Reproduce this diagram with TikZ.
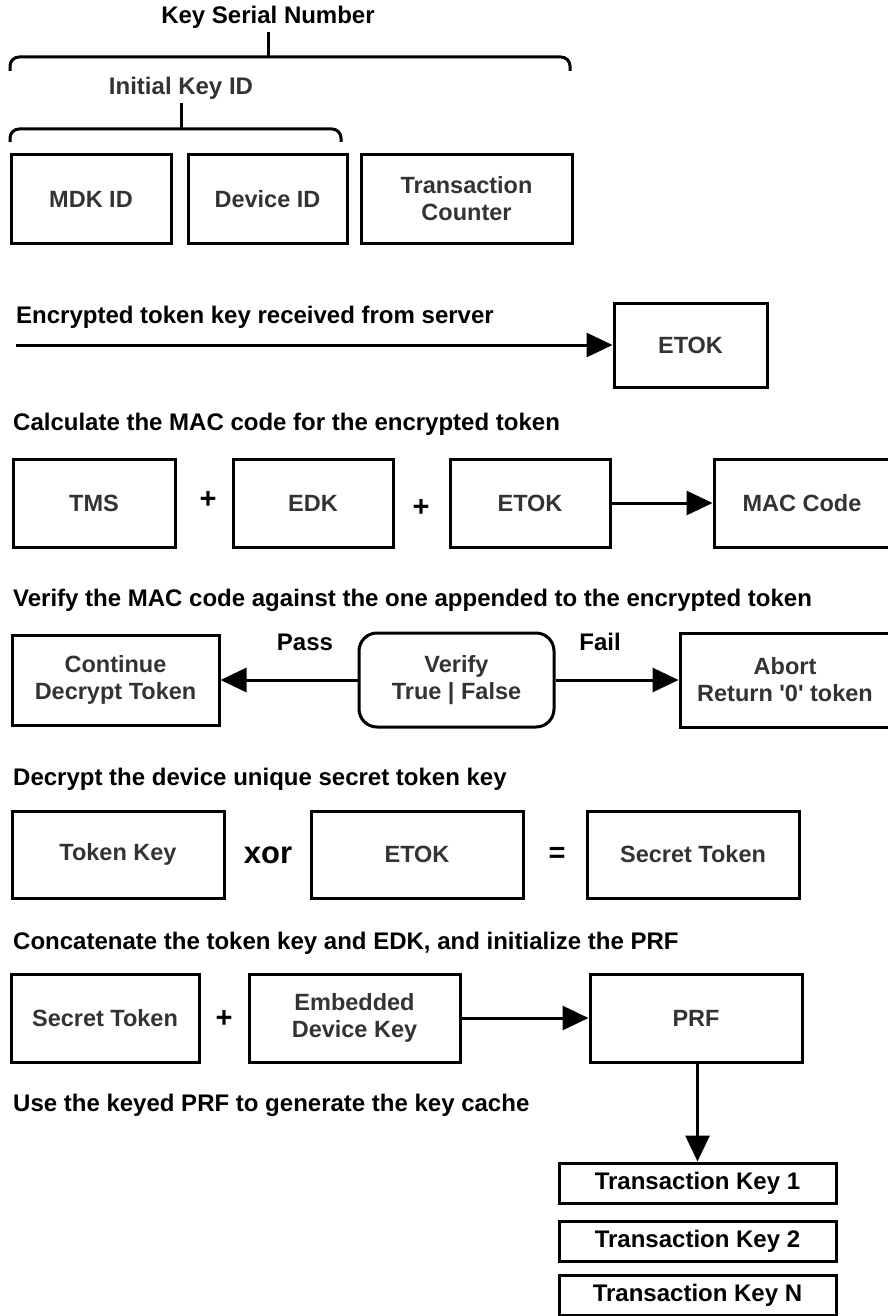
\documentclass[tikz,border=0pt]{standalone}
\usepackage{fontspec}
\setmainfont{Liberation Sans}
\usetikzlibrary{arrows.meta}
\definecolor{labelgray}{HTML}{333333}
\begin{document}
\begin{tikzpicture}[x=1pt,y=-1pt,
  txt/.style={font=\fontsize{23.5}{27}\selectfont\bfseries, inner sep=0pt},
  htxt/.style={font=\fontsize{24}{28}\selectfont\bfseries, inner sep=0pt},
  heading/.style={htxt, anchor=west, text=black},
  box/.style={draw, line width=3pt, inner sep=0pt, align=center, txt, text=labelgray},
  rbox/.style={box, rounded corners=18pt},
  tkbox/.style={draw, line width=3pt, inner sep=0pt, htxt, text=black, minimum width=277pt, minimum height=40pt},
  op/.style={htxt, text=black},
  bigop/.style={font=\fontsize{29}{29}\selectfont\bfseries, inner sep=0pt, text=black},
  conn/.style={line width=3pt, -{Triangle[length=26pt,width=24pt]}},
  brace/.style={line width=3pt, rounded corners=9pt},
  stem/.style={line width=3pt}
]
\useasboundingbox (0,0) rectangle (887,1316);

% --- Key serial number structure ---
\node[htxt, text=black] (ksn) at (268,17) {Key Serial Number};
\coordinate (ksntop) at (268,32);
\coordinate (ksnbr) at (268,57);
\draw[brace] (10,71) -- (10,57) -- (570,57) -- (570,71);
\draw[stem] (ksntop) -- (ksnbr);

\node[htxt, text=labelgray] (ikid) at (181,88) {Initial Key ID};
\coordinate (ikidtop) at (181,103);
\coordinate (ikidbr) at (181,129);
\draw[brace] (10,142) -- (10,129) -- (341,129) -- (341,142);
\draw[stem] (ikidtop) -- (ikidbr);

\node[box, minimum width=160pt, minimum height=88pt] (mdk) at (91,199) {MDK ID};
\node[box, minimum width=159pt, minimum height=88pt] (dev) at (267.5,199) {Device ID};
\node[box, minimum width=211pt, minimum height=88pt] (tc) at (466.5,199) {Transaction\\Counter};

% --- Encrypted token ---
\node[heading] (h1) at (16,317) {Encrypted token key received from server};
\node[box, minimum width=153pt, minimum height=84pt] (etok1) at (690.5,345) {ETOK};
\coordinate (srv) at (16,345);
\draw[conn] (srv) -- (etok1.west);

% --- MAC calculation ---
\node[heading] (h2) at (13,424) {Calculate the MAC code for the encrypted token};
\node[box, minimum width=162pt, minimum height=88pt] (tms) at (94,503) {TMS};
\node[bigop] (p1) at (208,500) {+};
\node[box, minimum width=160pt, minimum height=88pt] (edk) at (313,503) {EDK};
\node[bigop] (p2) at (421,508) {+};
\node[box, minimum width=160pt, minimum height=88pt] (etok2) at (530,503) {ETOK};
\node[box, minimum width=176pt, minimum height=88pt] (mac) at (802,503) {MAC Code};
\draw[conn] (etok2.east) -- (mac.west);

% --- Verify ---
\node[heading] (h3) at (13,600) {Verify the MAC code against the one appended to the encrypted token};
\node[box, minimum width=207pt, minimum height=90pt] (cont) at (115.5,680) {Continue\\Decrypt Token};
\node[rbox, minimum width=195pt, minimum height=94pt] (ver) at (456.5,680) {Verify\\True | False};
\node[box, minimum width=210pt, minimum height=94pt] (abort) at (785,680) {Abort\\Return \textquotesingle0\textquotesingle{} token};
\draw[conn] (ver.west) -- (cont.east);
\draw[conn] (ver.east) -- (abort.west);
\node[op] (pass) at (305,642) {Pass};
\node[op] (fail) at (600,642) {Fail};

% --- Decrypt ---
\node[heading] (h4) at (13,779) {Decrypt the device unique secret token key};
\node[box, minimum width=212pt, minimum height=87pt] (tk) at (118,854.5) {Token Key};
\node[op, font=\fontsize{31}{31}\selectfont\bfseries] (xor) at (268,855) {xor};
\node[box, minimum width=212pt, minimum height=87pt] (etok3) at (417,854.5) {ETOK};
\node[bigop] (eq) at (557,855) {=};
\node[box, minimum width=212pt, minimum height=87pt] (st1) at (693,854.5) {Secret Token};

% --- Concatenate ---
\node[heading] (h5) at (13,943) {Concatenate the token key and EDK, and initialize the PRF};
\node[box, minimum width=188pt, minimum height=88pt] (st2) at (105,1018) {Secret Token};
\node[bigop] (p3) at (224,1019) {+};
\node[box, minimum width=211pt, minimum height=88pt] (emb) at (354.5,1018) {Embedded\\Device Key};
\node[box, minimum width=212pt, minimum height=88pt] (prf) at (696,1018) {PRF};
\draw[conn] (emb.east) -- (prf.west);

% --- Key cache ---
\node[heading] (h6) at (13,1105) {Use the keyed PRF to generate the key cache};
\node[tkbox] (tk1) at (697.5,1183) {Transaction Key 1};
\node[tkbox] (tk2) at (697.5,1241) {Transaction Key 2};
\node[tkbox] (tkn) at (697.5,1295) {Transaction Key N};
\draw[conn] (prf.south -| tk1.north) -- (tk1.north);
\end{tikzpicture}
\end{document}
